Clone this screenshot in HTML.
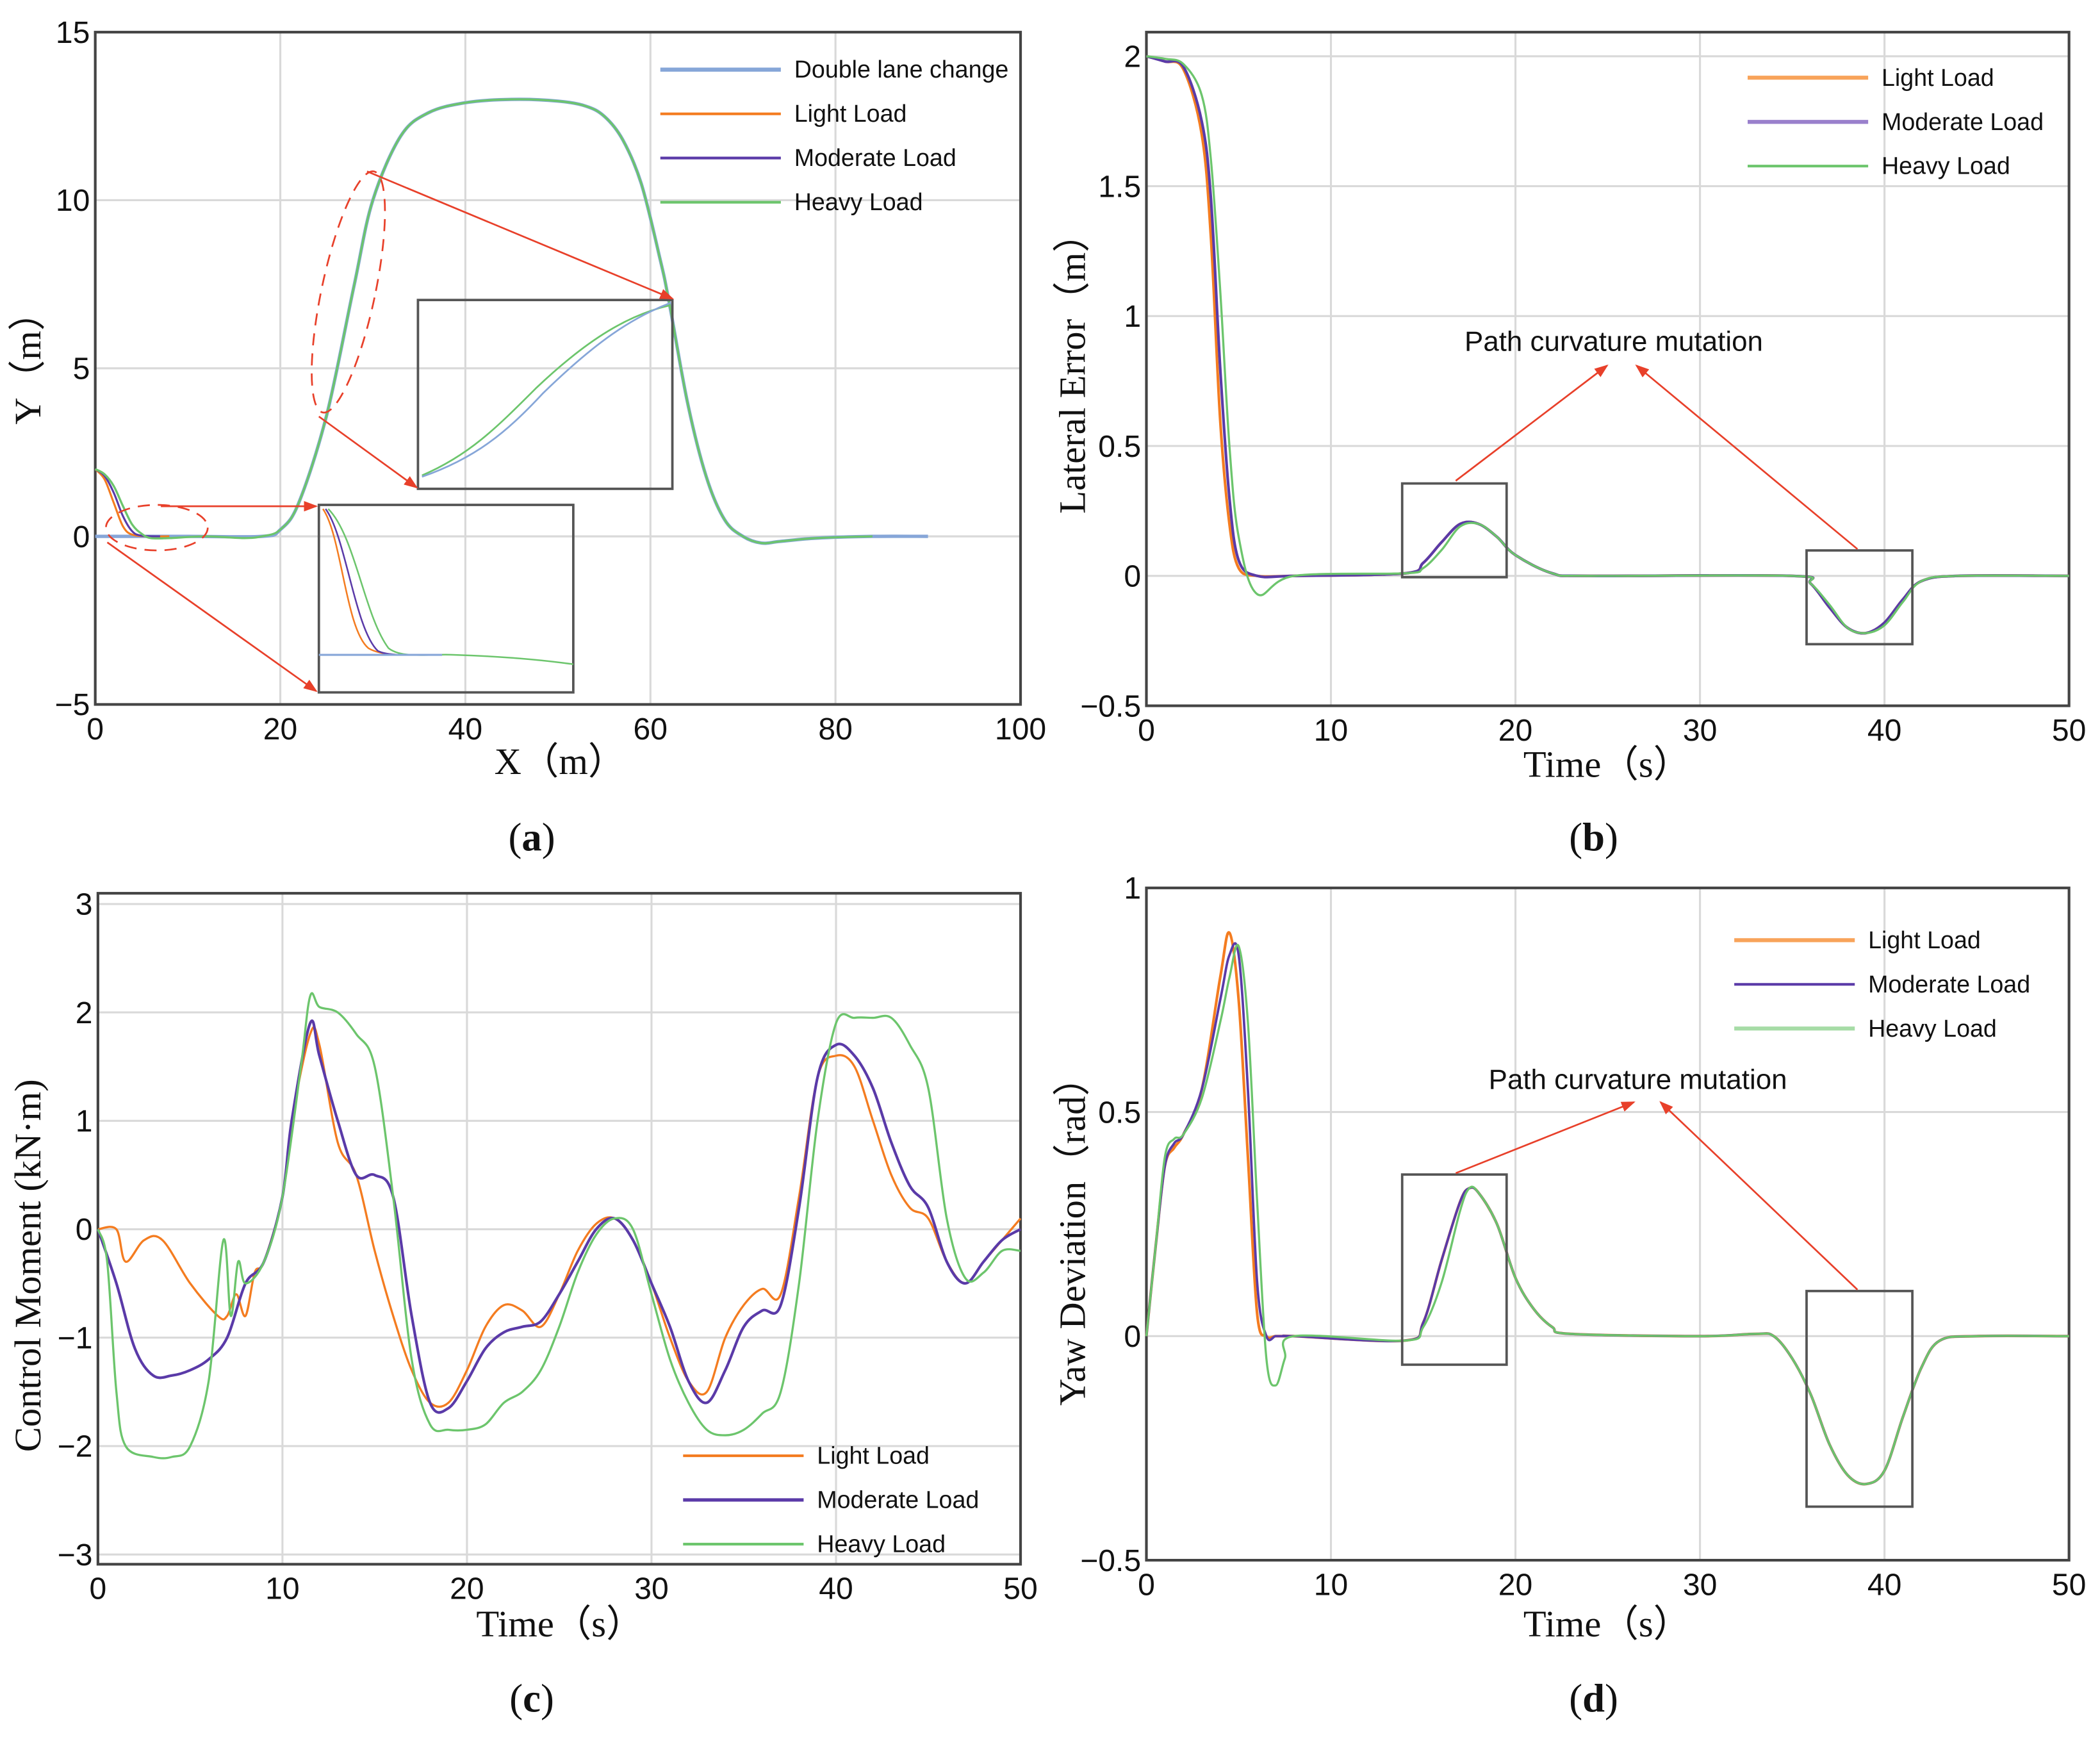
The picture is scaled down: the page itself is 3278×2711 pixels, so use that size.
<!DOCTYPE html>
<html><head><meta charset="utf-8"><style>
html,body{margin:0;padding:0;background:#fff;}
svg{display:block;}
text{font-family:"Liberation Sans",sans-serif;}
.t{font-size:23px;fill:#111;}
.s{font-family:"Liberation Serif",serif;font-size:28px;fill:#111;}
.an{font-family:"Liberation Sans",sans-serif;font-size:21px;fill:#111;}
.lg{font-size:18px;fill:#111;}
.pl{font-family:"Liberation Serif",serif;font-size:30px;fill:#111;}
</style></head><body>
<svg id="fig" width="3278" height="2711" viewBox="0 0 1568 1297" xmlns="http://www.w3.org/2000/svg">
<defs><marker id="ar" markerWidth="8" markerHeight="8" refX="7" refY="4" orient="auto"><path d="M0,1 L8,4 L0,7z" fill="#e8402a"/></marker></defs>
</svg>
<script>
// ---------- data ----------
const aDlcX=[0,10,18,20,22,25,28,30,33,36,40,45,50,53,55,57,59,61,62,64,66,68,70,72,74,78,84,90];
const aDlcY=[0,0,0,0.2,1,3.6,7.5,10,11.9,12.6,12.9,13,12.95,12.8,12.5,11.8,10.5,8.3,7,4,1.8,0.5,0,-0.2,-0.15,-0.05,0,0];
const aLightX=[0,1,2,3,4,6,8];const aLightY=[2,1.7,1,0.3,0.05,0,0];
const aModX=[0,1,2,3,4,5,7];const aModY=[2,1.8,1.3,0.6,0.15,0.02,0];
const aHeavyX=[0,1,2,3,4,5,6,8,12,16,18,20,22,25,28,30,33,36,40,45,50,53,55,57,59,61,62,64,66,68,70,72,74,78,84];
const aHeavyY=[2,1.85,1.5,0.9,0.35,0.08,-0.05,-0.05,0,-0.05,0,0.2,1,3.6,7.5,10,11.9,12.6,12.9,13,12.95,12.8,12.5,11.8,10.5,8.3,7,4,1.8,0.5,0,-0.2,-0.15,-0.05,0];

const bT=[0,1,2,3,3.5,4,4.5,5,6,8,14,15,16,17,18,19,20,22,24,35,36,37,38,39,40,41,42,44,50];
const bLight=[2,1.98,1.95,1.7,1.3,0.6,0.2,0.03,0,0,0.01,0.05,0.13,0.2,0.2,0.15,0.08,0.01,0,0,-0.03,-0.12,-0.2,-0.22,-0.18,-0.09,-0.02,0,0];
const bMod=[2,1.98,1.96,1.75,1.45,0.8,0.3,0.06,0,0,0.01,0.05,0.13,0.2,0.2,0.15,0.08,0.01,0,0,-0.03,-0.12,-0.2,-0.22,-0.18,-0.09,-0.02,0,0];
const bHeavy=[2,1.99,1.97,1.85,1.6,1.1,0.5,0.15,-0.07,0,0.01,0.03,0.1,0.19,0.2,0.15,0.08,0.01,0,0,-0.03,-0.11,-0.2,-0.22,-0.19,-0.1,-0.02,0,0];

const cT=[0,1,1.5,2.5,3.5,5,6.5,7,7.5,8,8.5,9,10,10.5,11.5,12,13,14,15,16,17,18,19,20,21,22,23,24,25,26,27,28,29,30,31,32,33,34,35,36,37,38,39,40,41,42,43,44,45,46,47,48,49,50];
const cLight=[0,0,-0.3,-0.1,-0.1,-0.5,-0.8,-0.8,-0.6,-0.8,-0.4,-0.3,0.3,1,1.8,1.7,0.8,0.5,-0.2,-0.8,-1.3,-1.6,-1.6,-1.3,-0.9,-0.7,-0.75,-0.9,-0.6,-0.2,0.05,0.1,-0.1,-0.5,-1,-1.4,-1.5,-1,-0.7,-0.55,-0.6,0.3,1.4,1.6,1.5,1.0,0.5,0.2,0.1,-0.3,-0.5,-0.3,-0.1,0.1];
const cModT=[0,1,2,3,4,5,6,7,8,9,10,10.5,11.5,12,13,14,15,16,17,18,19,20,21,22,23,24,25,26,27,28,29,30,31,32,33,34,35,36,37,38,39,40,41,42,43,44,45,46,47,48,49,50];
const cMod=[0,-0.5,-1.1,-1.35,-1.35,-1.3,-1.2,-1.0,-0.5,-0.3,0.3,1,1.9,1.6,1.0,0.5,0.5,0.3,-0.8,-1.6,-1.65,-1.4,-1.1,-0.95,-0.9,-0.85,-0.6,-0.3,0,0.1,-0.1,-0.5,-0.9,-1.4,-1.6,-1.3,-0.9,-0.75,-0.7,0.2,1.4,1.7,1.6,1.3,0.8,0.4,0.2,-0.3,-0.5,-0.3,-0.1,0];
const cHeavyT=[0,0.5,1,1.5,3,4,5,6,6.8,7.2,7.6,8,9,10,11,11.5,12,13,14,15,16,17,18,19,20,21,22,23,24,25,26,27,28,29,30,31,32,33,34,35,36,37,38,39,40,41,42,43,44,45,46,47,48,49,50];
const cHeavy=[0,-0.3,-1.5,-2,-2.1,-2.1,-2,-1.4,-0.1,-0.8,-0.3,-0.5,-0.3,0.3,1.5,2.15,2.05,2.0,1.8,1.5,0.3,-1.2,-1.8,-1.85,-1.85,-1.8,-1.6,-1.5,-1.3,-0.9,-0.4,-0.05,0.1,0,-0.6,-1.2,-1.6,-1.85,-1.9,-1.85,-1.7,-1.5,-0.5,1.0,1.9,1.95,1.95,1.95,1.7,1.3,0.1,-0.45,-0.4,-0.2,-0.2];

const dT=[0,0.5,1,1.5,2,3,4,4.5,5,5.5,6,6.5,7,7.5,8,14,15,16,17,17.5,18,19,20,21,22,23,30,33,34,35,36,37,38,39,40,41,42,43,45,50];
const dLight=[0,0.2,0.38,0.42,0.45,0.55,0.8,0.9,0.75,0.4,0.05,0,0,0,0,-0.01,0.03,0.17,0.3,0.33,0.32,0.25,0.13,0.06,0.02,0.005,0,0.005,0,-0.05,-0.13,-0.24,-0.31,-0.33,-0.3,-0.18,-0.07,-0.01,0,0];
const dMod=[0,0.2,0.38,0.43,0.45,0.55,0.75,0.85,0.85,0.55,0.12,0,0,0,0,-0.01,0.03,0.17,0.3,0.33,0.32,0.25,0.13,0.06,0.02,0.005,0,0.005,0,-0.05,-0.13,-0.24,-0.31,-0.33,-0.3,-0.18,-0.07,-0.01,0,0];
const dHeavy=[0,0.2,0.4,0.44,0.45,0.53,0.7,0.8,0.87,0.7,0.3,-0.05,-0.11,-0.05,0,-0.01,0.02,0.12,0.28,0.33,0.32,0.25,0.13,0.06,0.02,0.005,0,0.005,0,-0.05,-0.13,-0.24,-0.31,-0.33,-0.3,-0.18,-0.07,-0.01,0,0];

const COL={dlc:'#86a6d8',light:'#f47c20',mod:'#5a3aa8',heavy:'#6cc56c'};
// ---------- helpers ----------
const svg=document.getElementById('fig');const NS='http://www.w3.org/2000/svg';
function mk(tag,attrs,parent){const e=document.createElementNS(NS,tag);for(const k in attrs)e.setAttribute(k,attrs[k]);(parent||svg).appendChild(e);return e;}
function txt(s,x,y,cls,anchor,parent){const e=mk('text',{x:x,y:y,class:cls,'text-anchor':anchor||'start'},parent);e.textContent=s;return e;}
function axes(p){
  const g=mk('g',{});
  
  
  const sx=v=>p.x0+(v-p.xmin)/(p.xmax-p.xmin)*(p.x1-p.x0);
  const sy=v=>p.y0+(p.ymax-v)/(p.ymax-p.ymin)*(p.y1-p.y0);
  mk('rect',{x:p.x0,y:p.top,width:p.x1-p.x0,height:p.y1-p.top,fill:'#fff'},g);
  p.xt.forEach(v=>{mk('line',{x1:sx(v),x2:sx(v),y1:p.top,y2:p.y1,stroke:'#d9d9d9','stroke-width':1.5},g);
    const t=txt(String(v),sx(v),p.y1+26,'t','middle',g);});
  p.yt.forEach((v,i)=>{mk('line',{x1:p.x0,x2:p.x1,y1:sy(v),y2:sy(v),stroke:'#d9d9d9','stroke-width':1.5},g);
    const t=txt(p.ytl[i],p.x0-4,sy(v)+8,'t','end',g);});
  mk('rect',{x:p.x0,y:p.top,width:p.x1-p.x0,height:p.y1-p.top,fill:'none',stroke:'#444','stroke-width':2},g);
  return {g,sx,sy};
}
function smooth(pts){let d='M'+pts[0][0].toFixed(1)+','+pts[0][1].toFixed(1);
  for(let i=0;i<pts.length-1;i++){const p0=pts[Math.max(0,i-1)],p1=pts[i],p2=pts[i+1],p3=pts[Math.min(pts.length-1,i+2)];
    const c1=[p1[0]+(p2[0]-p0[0])/6,p1[1]+(p2[1]-p0[1])/6],c2=[p2[0]-(p3[0]-p1[0])/6,p2[1]-(p3[1]-p1[1])/6];
    d+=' C'+c1[0].toFixed(1)+','+c1[1].toFixed(1)+' '+c2[0].toFixed(1)+','+c2[1].toFixed(1)+' '+p2[0].toFixed(1)+','+p2[1].toFixed(1);}
  return d;}
function series(ax,xs,ys,col,w,name){const e=mk('path',{d:smooth(xs.map((x,i)=>[ax.sx(x),ax.sy(ys[i])])),fill:'none',stroke:col,'stroke-width':w||1.6},ax.g);
  return e;}
function legend(x,y,gap,items,w){items.forEach((it,i)=>{const g=mk('g',{});
  
  mk('line',{x1:x,x2:x+90,y1:y+i*gap,y2:y+i*gap,stroke:it[1],'stroke-width':it[2]||2},g);
  txt(it[0],x+100,y+i*gap+6,'lg','start',g);});}
function box(x,y,w,h,n){const r=mk('rect',{x:x,y:y,width:w,height:h,fill:'none',stroke:'#555','stroke-width':1.8});}
function arrow(x1,y1,x2,y2){const l=mk('line',{x1,y1,x2,y2,stroke:'#e8402a','stroke-width':1.3,'marker-end':'url(#ar)'});}
function label(s,x,y){const e=mk('text',{x:x,y:y,'text-anchor':'middle',class:'pl'});e.innerHTML='(<tspan font-weight="bold">'+s+'</tspan>)';}
function ytitle(s,x,y,n){const e=txt(s,x,y,'s','middle');e.setAttribute('transform','rotate(-90 '+x+' '+y+')');}
function xtitle(s,x,y,n,cls){const e=txt(s,x,y,cls||'s','middle');}

// ---------- (a) ----------
const A=axes({name:'panel-a',x0:71,x1:762,y0:24,y1:526,top:24,xmin:0,xmax:100,ymin:-5,ymax:15,xt:[0,20,40,60,80,100],yt:[15,10,5,0,-5],ytl:['15','10','5','0','\u22125']});
series(A,aDlcX,aDlcY,COL.dlc,2.5,'double-lane-change-line');
series(A,aLightX,aLightY,COL.light,1.5,'light-load-line');
series(A,aModX,aModY,COL.mod,1.5,'moderate-load-line');
series(A,aHeavyX,aHeavyY,COL.heavy,1.6,'heavy-load-line');
legend(493,52,33,[['Double lane change',COL.dlc,3],['Light Load',COL.light],['Moderate Load',COL.mod],['Heavy Load',COL.heavy]]);
box(312,224,190,141,'inset-box-upper');
mk('path',{d:'M315,355 C350,340 370,320 400,290 C440,252 470,235 500,228',fill:'none',stroke:COL.heavy,'stroke-width':1.3});
mk('path',{d:'M315,356 C355,342 378,323 405,294 C445,255 472,237 501,226',fill:'none',stroke:COL.dlc,'stroke-width':1.3});
box(238,377,190,140,'inset-box-lower');
mk('path',{d:'M241,380 C255,400 258,470 275,484 C285,490 300,489 330,489',fill:'none',stroke:COL.light,'stroke-width':1.2});
mk('path',{d:'M243,380 C258,400 265,470 282,486 C290,490 305,489 330,489',fill:'none',stroke:COL.mod,'stroke-width':1.2});
mk('path',{d:'M245,380 C265,400 272,460 290,484 C300,492 320,488 340,489 C370,490 400,492 428,496',fill:'none',stroke:COL.heavy,'stroke-width':1.2});
mk('line',{x1:238,x2:330,y1:489,y2:489,stroke:COL.dlc,'stroke-width':1.5});
mk('ellipse',{cx:260,cy:218,rx:20,ry:92,transform:'rotate(12 260 218)',fill:'none',stroke:'#e8402a','stroke-width':1.3,'stroke-dasharray':'9 6'});
mk('ellipse',{cx:117,cy:394,rx:38,ry:17,fill:'none',stroke:'#e8402a','stroke-width':1.3,'stroke-dasharray':'9 6'});
arrow(274,128,502,223);arrow(238,311,311,364);arrow(120,378,236,378);arrow(80,405,236,516);
ytitle('Y\uFF08m\uFF09',30,268,'y-axis-title-a');xtitle('X\uFF08m\uFF09',418,578,'x-axis-title-a');
label('a',397,635);

// ---------- (b) ----------
const B=axes({name:'panel-b',x0:856,x1:1545,y0:42,y1:527,top:24,xmin:0,xmax:50,ymin:-0.5,ymax:2,xt:[0,10,20,30,40,50],yt:[2,1.5,1,0.5,0,-0.5],ytl:['2','1.5','1','0.5','0','\u22120.5']});
series(B,bT,bLight,COL.light,2,'light-load-line');
series(B,bT,bMod,COL.mod,2,'moderate-load-line');
series(B,bT,bHeavy,COL.heavy,1.6,'heavy-load-line');
legend(1305,58,33,[['Light Load','#f8a35a',3],['Moderate Load','#9a80cc',3],['Heavy Load',COL.heavy]]);
box(1047,361,78,70,'highlight-box-1');box(1349,411,79,70,'highlight-box-2');
xtitle('Path curvature mutation',1205,262,'annotation-text-b','an');
arrow(1087,359,1200,273);arrow(1387,410,1222,273);
ytitle('Lateral Error\uFF08m\uFF09',810,272,'y-axis-title-b');xtitle('Time\uFF08s\uFF09',1200,580,'x-axis-title-b');
label('b',1190,635);

// ---------- (c) ----------
const C=axes({name:'panel-c',x0:73,x1:762,y0:675,y1:1168,top:667,xmin:0,xmax:50,ymin:-3.09,ymax:3,xt:[0,10,20,30,40,50],yt:[3,2,1,0,-1,-2,-3],ytl:['3','2','1','0','\u22121','\u22122','\u22123']});
series(C,cT,cLight,COL.light,1.6,'light-load-line');
series(C,cModT,cMod,COL.mod,2,'moderate-load-line');
series(C,cHeavyT,cHeavy,COL.heavy,1.6,'heavy-load-line');
legend(510,1087,33,[['Light Load',COL.light],['Moderate Load',COL.mod,2.5],['Heavy Load',COL.heavy]]);
ytitle('Control Moment (kN\u00B7m)',30,945,'y-axis-title-c');xtitle('Time\uFF08s\uFF09',418,1222,'x-axis-title-c');
label('c',397,1278);

// ---------- (d) ----------
const D=axes({name:'panel-d',x0:856,x1:1545,y0:663,y1:1165,top:663,xmin:0,xmax:50,ymin:-0.5,ymax:1,xt:[0,10,20,30,40,50],yt:[1,0.5,0,-0.5],ytl:['1','0.5','0','\u22120.5']});
series(D,dT,dLight,COL.light,2,'light-load-line');
series(D,dT,dMod,COL.mod,1.8,'moderate-load-line');
series(D,dT,dHeavy,COL.heavy,1.6,'heavy-load-line');
legend(1295,702,33,[['Light Load','#f8a35a',3],['Moderate Load',COL.mod],['Heavy Load','#a6dca6',3]]);
box(1047,877,78,142,'highlight-box-1');box(1349,964,79,161,'highlight-box-2');
xtitle('Path curvature mutation',1223,813,'annotation-text-d','an');
arrow(1087,876,1220,823);arrow(1387,963,1240,823);
ytitle('Yaw Deviation\uFF08rad\uFF09',810,920,'y-axis-title-d');xtitle('Time\uFF08s\uFF09',1200,1222,'x-axis-title-d');
label('d',1190,1278);
</script>
</body></html>
